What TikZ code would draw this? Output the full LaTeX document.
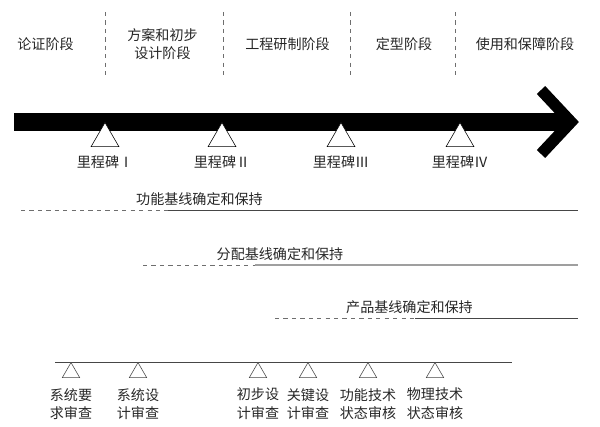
\documentclass[tikz,border=0pt]{standalone}
\usepackage{fontspec}
\setmainfont{Noto Sans CJK SC}
\usepackage{xcolor}
\usetikzlibrary{shapes.geometric, positioning}
\definecolor{linegray}{RGB}{70,70,70}
\definecolor{dashgray}{RGB}{110,110,110}

\begin{document}
\begin{tikzpicture}[x=0.025cm, y=-0.025cm,
    font=\fontsize{10}{13.3}\selectfont, >=latex,
    stagelbl/.style={align=center, text=black!85},
    mstone/.style={regular polygon, regular polygon sides=3, draw, fill=white,
      inner sep=0pt, minimum size=0.8cm, anchor=corner 1},
    review/.style={regular polygon, regular polygon sides=3, draw=linegray,
      fill=white, inner sep=0pt, minimum size=0.5cm, anchor=corner 1}]
  \useasboundingbox (0,0) rectangle (600,427);

  % Stages
  \foreach \x in {105, 223, 350, 455}
    \draw[dashed, dashgray] (\x,12) -- (\x,76);
  \node[stagelbl] (st1) at (45.5,44) {论证阶段};
  \node[stagelbl] (st2) at (162.5,44) {方案和初步\\设计阶段};
  \node[stagelbl] (st3) at (287.5,44) {工程研制阶段};
  \node[stagelbl] (st4) at (404,44) {定型阶段};
  \node[stagelbl] (st5) at (525,44) {使用和保障阶段};

  % Time arrow
  \fill (14,113) rectangle (569,131);
  \draw[line width=8.2pt] (541,90) -- (571,122) -- (541,154);

  % Milestones
  \foreach \n/\x/\r in {1/105/Ⅰ, 2/222/Ⅱ, 3/341/Ⅲ, 4/460/Ⅳ} {
    \node[mstone] (ms\n) at (\x,122) {};
    \node[stagelbl] (msl\n) at (\x,162) {里程碑\r};
  }

  % Baselines
  \foreach \n/\xa/\xb/\y/\xt/\t in {1/21/168/210/199.5/功能, 2/143/255/265/280/分配,
                                    3/275/415/318/409.5/产品} {
    \coordinate (bl\n a) at (\xa,\y);
    \coordinate (bl\n b) at (\xb,\y);
    \coordinate (bl\n c) at (578,\y);
    \draw[dashed, dashgray] (bl\n a) -- (bl\n b);
    \node[stagelbl] (bll\n) at (\xt,\y-11) {\t 基线确定和保持};
  }
  \draw[linegray, line width=0.6pt] (bl1b) -- (bl1c);
  \draw[gray!75, line width=1.1pt] (bl2b) -- (bl2c);
  \draw[linegray, line width=0.6pt] (bl3b) -- (bl3c);

  % Reviews
  \coordinate (rv0) at (55,362);
  \coordinate (rv9) at (512,362);
  \draw[linegray, line width=0.6pt] (rv0) -- (rv9);
  \foreach \n/\x/\t in {1/71/系统要\\求审查, 2/138/系统设\\计审查, 3/258/初步设\\计审查,
                        4/308/关键设\\计审查, 5/368/功能技术\\状态审核, 6/435/物理技术\\状态审核} {
    \node[review] (rv\n) at (\x,362) {};
    \node[stagelbl] (rvl\n) at (\x,404) {\t};
  }
\end{tikzpicture}
\end{document}
